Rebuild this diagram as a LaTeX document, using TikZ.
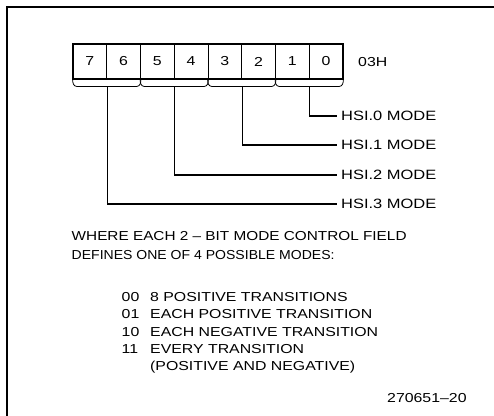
\documentclass[tikz,border=0pt]{standalone}
\usepackage{fontspec}
\setmainfont{Liberation Sans}[FakeStretch=1.22]
\usetikzlibrary{positioning}

\begin{document}
\begin{tikzpicture}[x=1pt,y=-1pt,
    bit/.style={%
      draw,
      line width=0.8pt,
      minimum width=33.75pt,
      minimum height=35pt,
      inner sep=0pt,
      font=\fontsize{13}{15}\selectfont,
    },
    txt/.style={%
      anchor=west,
      inner sep=0pt,
      font=\fontsize{13}{15}\selectfont,
    },
    lbl/.style={txt,inner xsep=4pt,font=\fontsize{13.5}{15}\selectfont},
    wire/.style={line width=1.2pt},
  ]
    \useasboundingbox (0,0) rectangle (494,415);
    \draw [line width=1.5pt] (7,420) -- (7,7) -- (500,7);

    % register 03H
    \foreach \b [count=\i from 0] in {7,...,0}
      \node [bit] (b\b) at (89.875+33.75*\i,61.5) {\b};
    \draw [line width=2pt] (b7.north west) rectangle (b0.south east);
    \node [txt] (addr) at (358,62.5) {03H};

    % two-bit fields
    \foreach \l/\r/\k in {7/6/3,5/4/2,3/2/1,1/0/0} {
      \draw [line width=0.8pt] (b\l.south west) to [out=-90,in=180] ++(4,7)
        -- ([xshift=-4pt,yshift=-7pt]b\r.south east)
        to [out=0,in=-90] (b\r.south east);
      \path (b\l.south east) ++(0,7) coordinate (m\k);
    }

    \node [lbl] (hsi0) at (337,116) {HSI.0 MODE};
    \node [lbl] (hsi1) at (337,145) {HSI.1 MODE};
    \node [lbl] (hsi2) at (337,175) {HSI.2 MODE};
    \node [lbl] (hsi3) at (337,204) {HSI.3 MODE};
    \foreach \k in {0,...,3}
      \draw [wire] (m\k) |- (hsi\k.west);

    \node [txt] (where) at (71.5,236.5)
      {\scalebox{0.967}[1]{WHERE EACH 2 -- BIT MODE CONTROL FIELD}};
    \node [txt] (defs) at (71.5,255)
      {\scalebox{0.885}[1]{DEFINES ONE OF 4 POSSIBLE MODES:}};

    \foreach \c/\t [count=\i from 0] in {00/8 POSITIVE TRANSITIONS,
        01/EACH POSITIVE TRANSITION,10/EACH NEGATIVE TRANSITION,
        11/EVERY TRANSITION} {
      \node [txt] (code\c) at (121.5,297+17.5*\i) {\c};
      \node [txt] (mode\c) at (150,297+17.5*\i) {\t};
    }
    \node [txt] (mode11b) at (150,367) {(POSITIVE AND NEGATIVE)};

    \node [txt] (fig) at (387,398) {270651--20};
\end{tikzpicture}
\end{document}
